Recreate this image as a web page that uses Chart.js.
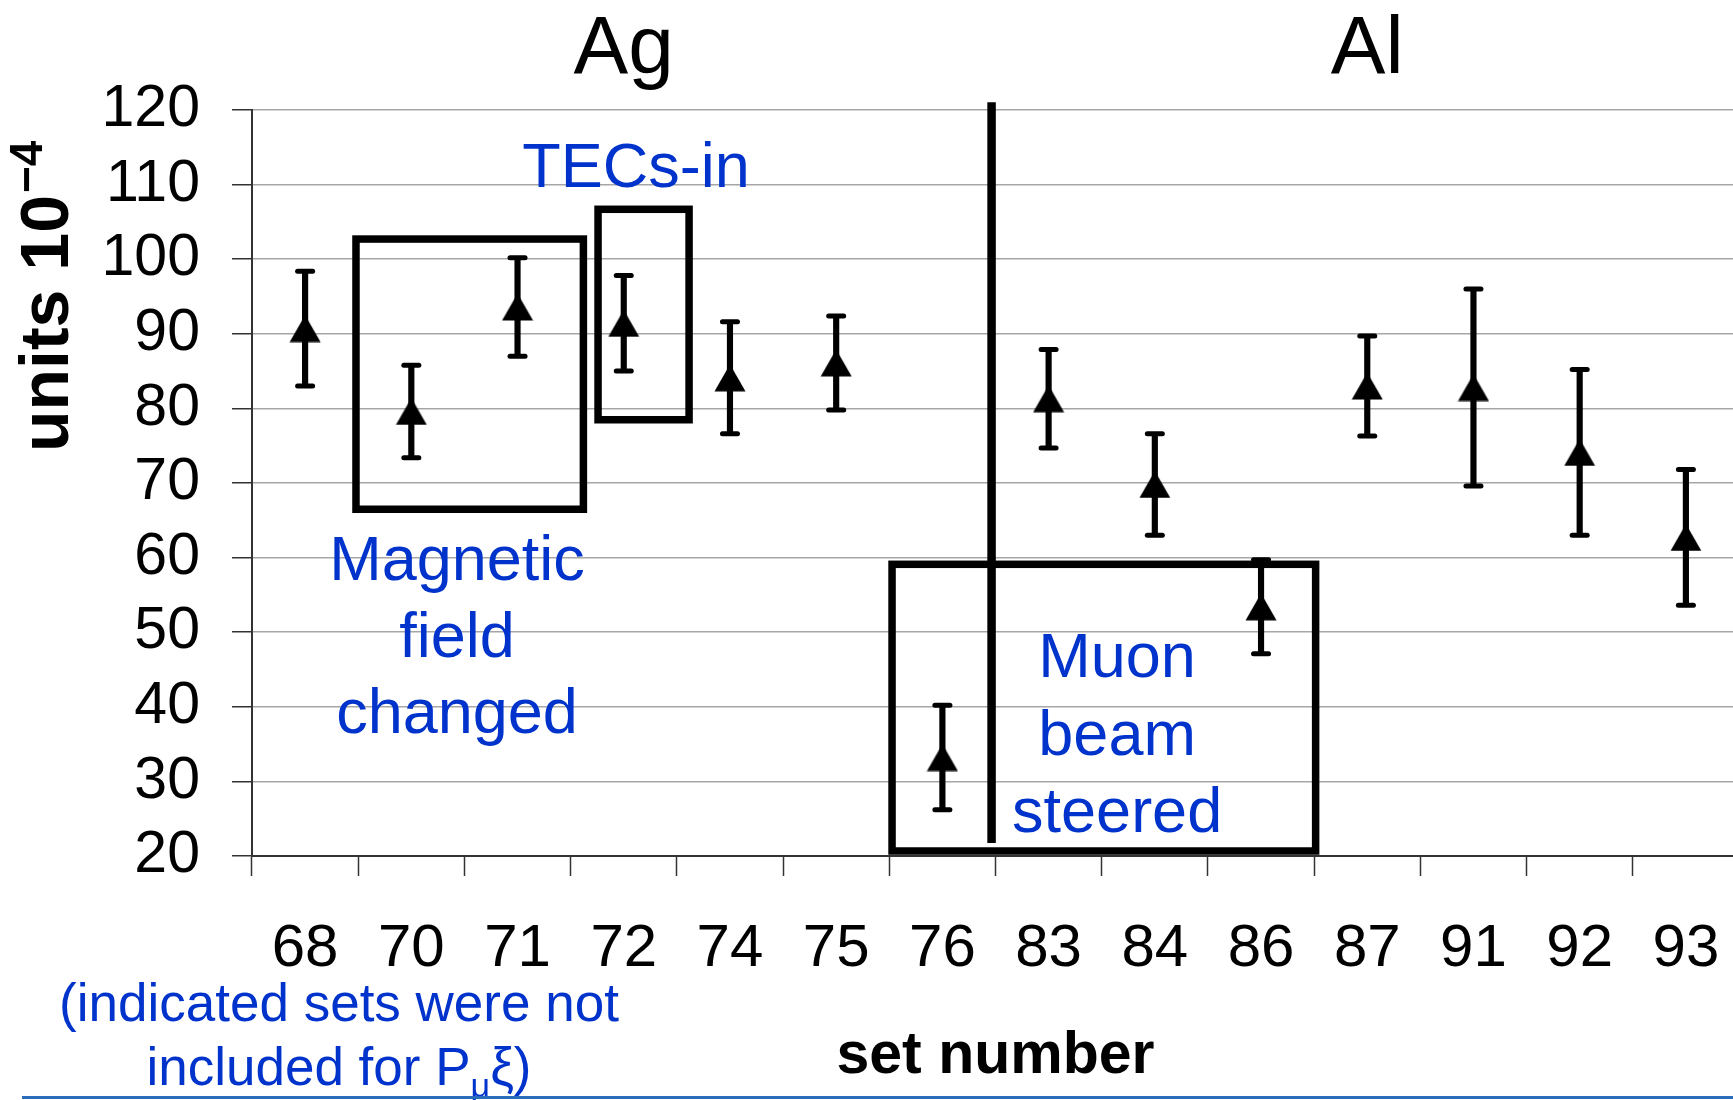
<!DOCTYPE html>
<html>
<head>
<meta charset="utf-8">
<title>Asymmetry by set number</title>
<script src="https://cdn.jsdelivr.net/npm/chart.js@4.4.1/dist/chart.umd.min.js"></script>
<style>
  html, body { margin: 0; padding: 0; background: #ffffff; overflow: hidden; }
  #wrap { position: relative; width: 1733px; height: 1100px; overflow: hidden; }
  #chart { display: block; }
</style>
</head>
<body>
<div id="wrap"><canvas id="chart" width="1756" height="1100"></canvas></div>
<script>
// ---- data (units of 1e-4) ----
const setNumbers   = ['68', '70', '71', '72', '74', '75', '76', '83', '84', '86', '87', '91', '92', '93'];
const asymmetry    = [90.7, 79.6, 93.6, 91.4, 84.1, 86.1, 33.2, 81.3, 69.8, 53.4, 83.0, 82.8, 74.1, 62.7];
const asymmetryErr = [7.7, 6.2, 6.6, 6.4, 7.5, 6.3, 7.0, 6.6, 6.8, 6.3, 6.7, 13.2, 11.1, 9.1];
const yTickValues  = [20, 30, 40, 50, 60, 70, 80, 90, 100, 110, 120];

// ---- annotations, placed in axis units (x = set index, y = value) ----
const targetLabels = [
  { text: 'Ag', x: 3.0,  y: 125.0 },
  { text: 'Al', x: 10.0, y: 125.0 }
];
const blueNotes = [
  { lines: ['TECs-in'], x: 3.116, y: [109.7] },
  { lines: ['Magnetic', 'field', 'changed'], x: 1.43, y: [57.0, 46.7, 36.45] },
  { lines: ['Muon', 'beam', 'steered'], x: 7.645, y: [43.95, 33.55, 23.25] }
];
const frames = [
  { x0: 0.479, x1: 2.62,  y0: 66.48, y1: 102.7 },
  { x0: 2.758, x1: 3.615, y0: 78.48, y1: 106.69 },
  { x0: 5.526, x1: 9.514, y0: 20.67, y1: 59.1 }
];
const divider = { x: 6.463, y0: 21.74, y1: 121.05 };
const footnote = { x: 0.319, y: [-2.13, -10.71] };

const FONT = '"Liberation Sans", Arial, Helvetica, sans-serif';
const BLUE = '#0033cc';

Chart.defaults.font.family = FONT;
Chart.defaults.color = '#000000';

// filled triangle marker, centred on its bounding box
const triangle = document.createElement('canvas');
triangle.width = 32;
triangle.height = 28;
(function () {
  const g = triangle.getContext('2d');
  g.fillStyle = '#000000';
  g.beginPath();
  g.moveTo(16, 0.5);
  g.lineTo(31.5, 27.5);
  g.lineTo(0.5, 27.5);
  g.closePath();
  g.fill();
})();

const errorRange = asymmetry.map((v, i) => [v - asymmetryErr[i], v + asymmetryErr[i]]);
const errorLow   = asymmetry.map((v, i) => v - asymmetryErr[i]);
const errorHigh  = asymmetry.map((v, i) => v + asymmetryErr[i]);

const annotate = {
  id: 'annotate',
  // rounded ends on the error-bar caps
  beforeDatasetDraw(chart, args) {
    if (args.meta.type === 'line' && args.meta.index > 0) chart.ctx.lineCap = 'round';
  },
  afterDatasetDraw(chart) {
    chart.ctx.lineCap = 'butt';
  },
  afterDatasetsDraw(chart) {
    const { ctx, scales: { x, y } } = chart;
    ctx.save();

    // framed groups of sets
    ctx.strokeStyle = '#000000';
    ctx.lineWidth = 7.5;
    ctx.lineJoin = 'miter';
    frames.forEach(f => {
      const l = x.getPixelForValue(f.x0), r = x.getPixelForValue(f.x1);
      const t = y.getPixelForValue(f.y1), b = y.getPixelForValue(f.y0);
      ctx.strokeRect(l, t, r - l, b - t);
    });

    // Ag / Al separator
    ctx.lineWidth = 8.5;
    ctx.lineCap = 'butt';
    ctx.beginPath();
    const dx = x.getPixelForValue(divider.x);
    ctx.moveTo(dx, y.getPixelForValue(divider.y1));
    ctx.lineTo(dx, y.getPixelForValue(divider.y0));
    ctx.stroke();

    // target names
    ctx.fillStyle = '#000000';
    ctx.textAlign = 'center';
    ctx.textBaseline = 'alphabetic';
    ctx.font = '82px ' + FONT;
    targetLabels.forEach(t => {
      ctx.fillText(t.text, x.getPixelForValue(t.x), y.getPixelForValue(t.y));
    });

    // blue remarks
    ctx.fillStyle = BLUE;
    ctx.font = '63px ' + FONT;
    blueNotes.forEach(n => {
      n.lines.forEach((line, i) => {
        ctx.fillText(line, x.getPixelForValue(n.x), y.getPixelForValue(n.y[i]));
      });
    });

    // footnote under the set numbers
    ctx.font = '53px ' + FONT;
    const fx = x.getPixelForValue(footnote.x);
    ctx.fillText('(indicated sets were not', fx, y.getPixelForValue(footnote.y[0]));
    const base2 = y.getPixelForValue(footnote.y[1]);
    const partA = 'included for P', partB = '\u03bc', partC = '\u03be)';
    ctx.font = '53px ' + FONT;
    const wA = ctx.measureText(partA).width, wC = ctx.measureText(partC).width;
    ctx.font = '34px ' + FONT;
    const wB = ctx.measureText(partB).width;
    let sx = fx - (wA + wB + wC) / 2;
    ctx.textAlign = 'left';
    ctx.font = '53px ' + FONT;
    ctx.fillText(partA, sx, base2);
    sx += wA;
    ctx.font = '34px ' + FONT;
    ctx.fillText(partB, sx, base2 + 12);
    sx += wB;
    ctx.font = '53px ' + FONT;
    ctx.fillText(partC, sx, base2);

    ctx.restore();
  },
  afterDraw(chart) {
    const { ctx, chartArea } = chart;
    ctx.save();

    // vertical axis title with superscript exponent
    ctx.translate(chartArea.left - 184, 452);
    ctx.rotate(-Math.PI / 2);
    ctx.fillStyle = '#000000';
    ctx.textAlign = 'left';
    ctx.textBaseline = 'alphabetic';
    ctx.font = 'bold 68px ' + FONT;
    ctx.fillText('units 10', 0, 0);
    const w = ctx.measureText('units 10').width;
    ctx.font = 'bold 46px ' + FONT;
    ctx.fillText('\u22124', w + 2, -26);
    ctx.restore();

    // slide rule along the bottom edge
    ctx.save();
    ctx.fillStyle = '#2b6cbc';
    ctx.fillRect(22, 1096, chart.width - 22, 3);
    ctx.restore();
  }
};

new Chart(document.getElementById('chart'), {
  type: 'bar',
  data: {
    labels: setNumbers,
    datasets: [
      {
        type: 'line',
        label: 'asymmetry',
        data: asymmetry,
        showLine: false,
        pointStyle: triangle,
        pointRadius: 16,
        order: 0
      },
      {
        type: 'line',
        label: 'upper',
        data: errorHigh,
        showLine: false,
        pointStyle: 'line',
        pointRadius: 7.5,
        borderColor: '#000000',
        pointBorderWidth: 5,
        order: 1
      },
      {
        type: 'line',
        label: 'lower',
        data: errorLow,
        showLine: false,
        pointStyle: 'line',
        pointRadius: 7.5,
        borderColor: '#000000',
        pointBorderWidth: 5,
        order: 1
      },
      {
        type: 'bar',
        label: 'error',
        data: errorRange,
        backgroundColor: '#000000',
        borderWidth: 0,
        barThickness: 5.5,
        order: 2
      }
    ]
  },
  options: {
    responsive: false,
    animation: false,
    events: [],
    devicePixelRatio: 1,
    layout: { padding: { top: 110, right: 0, bottom: 0, left: 0 } },
    plugins: {
      legend: { display: false },
      tooltip: { enabled: false },
      title: { display: false }
    },
    scales: {
      x: {
        type: 'category',
        offset: true,
        afterFit(scale) {
          scale.height = 244;
          scale.paddingLeft = 0;
          scale.paddingRight = 0;
        },
        grid: {
          offset: true,
          drawOnChartArea: false,
          drawTicks: true,
          tickLength: 20,
          tickColor: '#333333',
          tickWidth: 1.5
        },
        border: { display: true, color: '#333333', width: 2 },
        ticks: {
          autoSkip: false,
          maxRotation: 0,
          padding: 37,
          color: '#000000',
          font: { size: 60, lineHeight: 1.2 }
        },
        title: {
          display: true,
          text: 'set number',
          color: '#000000',
          font: { size: 59, weight: 'bold', lineHeight: 1.2 },
          padding: { top: 0, bottom: 8 }
        }
      },
      y: {
        type: 'linear',
        min: 20,
        max: 120,
        afterFit(scale) {
          scale.width = 252;
          scale.paddingTop = 0;
          scale.paddingBottom = 0;
        },
        afterBuildTicks(scale) { scale.ticks = yTickValues.map(v => ({ value: v })); },
        grid: {
          color: '#a6a6a6',
          lineWidth: 1.5,
          drawTicks: true,
          tickLength: 20,
          tickColor: '#333333',
          tickWidth: 1.5
        },
        border: { display: true, color: '#333333', width: 2 },
        ticks: {
          padding: 32,
          color: '#000000',
          font: { size: 59, lineHeight: 1.2 }
        },
        title: { display: false }
      }
    }
  },
  plugins: [annotate]
});
</script>
</body>
</html>
